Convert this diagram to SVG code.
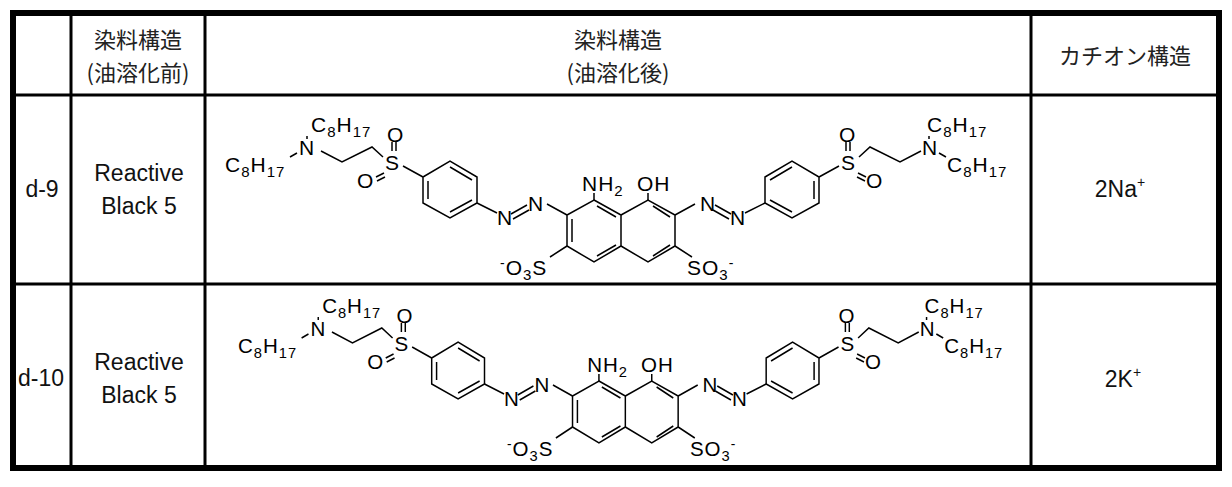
<svg xmlns="http://www.w3.org/2000/svg" width="1232" height="487" viewBox="0 0 1232 487">
<style>
.b{stroke:#000;stroke-width:1.5;fill:none}
.t{font-family:"Liberation Sans",Arial,sans-serif;font-size:23px;fill:#111;text-anchor:middle}
.c{font-family:"Liberation Sans",Arial,sans-serif;font-size:21px;fill:#000;letter-spacing:1px}
.h{font-family:"Noto Sans CJK JP","Liberation Sans",sans-serif;font-size:22px;fill:#222;text-anchor:middle}
.s{font-size:15px}
.p{font-size:14px}
</style>
<defs>
<g id="mol">
<g class="b">
<path d="M594,200 L621,215 L621,246 L594,262 L567,246 L567,215 Z"/>
<path d="M621,215 L648,200 L675,215 L675,246 L648,262 L621,246"/>
<path d="M572,219 L572,242 M597,206 L616,217 M597,256 L616,245 M653,206 L670,217 M653,256 L670,245"/>
<path d="M594,200 L594,193 M648,200 L648,193"/>
<path d="M423,177 L450,161 L477,177 L477,203 L450,218 L423,203 Z"/>
<path d="M428,181 L428,199 M450,167 L472,180 M450,212 L472,200"/>
<path d="M423,177 L403,166 M477,203 L497,213 M567,215 L547,204"/>
<path d="M511,214 L527,205 M513,219 L529,210"/>
<path d="M392,151 L392,142 M396,151 L396,142 M384,173 L376,177 M385,177 L377,181"/>
<path d="M383,157 L372,147 L342,162 L321,151"/>
<path d="M567,246 L550,257 M675,246 L692,257"/>
<path d="M765,177 L792,161 L819,177 L819,203 L792,218 L765,203 Z"/>
<path d="M814,181 L814,199 M792,167 L770,180 M792,212 L770,200"/>
<path d="M819,177 L839,166 M765,203 L745,213 M675,215 L695,204"/>
<path d="M731,214 L715,205 M729,219 L713,210"/>
<path d="M846,151 L846,142 M850,151 L850,142 M858,173 L866,177 M857,177 L865,181"/>
<path d="M859,157 L870,147 L900,162 L921,151"/>
<path d="M307,139 L307,136 M297,153 L290,157 M929,139 L929,136 M939,153 L946,157"/>
</g>
<text class="c" x="582" y="191">NH<tspan class="s" dy="5">2</tspan></text>
<text class="c" x="637" y="191">OH</text>
<text class="c" x="385" y="170">S</text>
<text class="c" x="387" y="142">O</text>
<text class="c" x="357" y="188">O</text>
<text class="c" x="299" y="155">N</text>
<text class="c" x="311" y="132">C<tspan class="s" dy="5">8</tspan><tspan dy="-5">H</tspan><tspan class="s" dy="5">17</tspan></text>
<text class="c" x="225" y="172">C<tspan class="s" dy="5">8</tspan><tspan dy="-5">H</tspan><tspan class="s" dy="5">17</tspan></text>
<text class="c" x="497" y="225">N</text>
<text class="c" x="528" y="211">N</text>
<text class="c" x="500" y="275"><tspan class="p" dy="-7">-</tspan><tspan dy="7">O</tspan><tspan class="s" dy="5">3</tspan><tspan dy="-5">S</tspan></text>
<text class="c" x="687" y="275">SO<tspan class="s" dy="5">3</tspan><tspan class="p" dy="-12">-</tspan></text>
<text class="c" x="730" y="225">N</text>
<text class="c" x="700" y="211">N</text>
<text class="c" x="841" y="170">S</text>
<text class="c" x="839" y="142">O</text>
<text class="c" x="866" y="188">O</text>
<text class="c" x="922" y="155">N</text>
<text class="c" x="927" y="132">C<tspan class="s" dy="5">8</tspan><tspan dy="-5">H</tspan><tspan class="s" dy="5">17</tspan></text>
<text class="c" x="947" y="172">C<tspan class="s" dy="5">8</tspan><tspan dy="-5">H</tspan><tspan class="s" dy="5">17</tspan></text>
</g>
</defs>
<rect width="1232" height="487" fill="#fff"/>
<g id="table" stroke="#000" fill="none">
<rect x="13" y="13" width="1206" height="455" stroke-width="6"/>
<path d="M71,13 V468 M205,13 V468 M1031,13 V468" stroke-width="3"/>
<path d="M13,95 H1219 M13,284 H1219" stroke-width="3"/>
</g>
<g id="header">
<text class="h" x="138" y="48">染料構造</text>
<text class="h" x="138" y="81">(油溶化前)</text>
<text class="h" x="618" y="48">染料構造</text>
<text class="h" x="618" y="81">(油溶化後)</text>
<text class="h" x="1125" y="64">カチオン構造</text>
</g>
<g id="row1">
<text class="t" x="42" y="197">d-9</text>
<text class="t" x="139" y="181">Reactive</text>
<text class="t" x="139" y="214">Black 5</text>
<use href="#mol"/>
<text class="t" x="1120" y="197">2Na<tspan class="p" dy="-10">+</tspan></text>
</g>
<g id="row2">
<text class="t" x="41" y="386">d-10</text>
<text class="t" x="139" y="370">Reactive</text>
<text class="t" x="139" y="403">Black 5</text>
<use href="#mol" transform="translate(18,181) scale(0.978,1)"/>
<text class="t" x="1123" y="387">2K<tspan class="p" dy="-10">+</tspan></text>
</g>
</svg>
